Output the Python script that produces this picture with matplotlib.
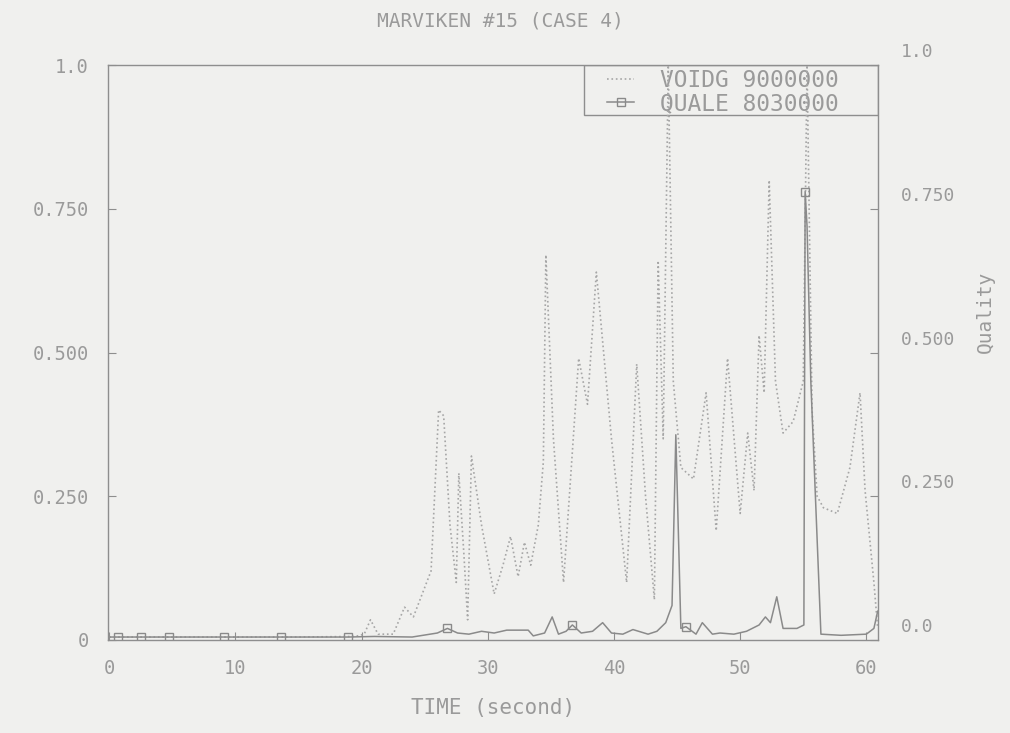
import numpy as np
import matplotlib.pyplot as plt
import matplotlib.transforms as mtransforms
from matplotlib.patches import Rectangle

# VOIDG 9000000 (dotted)
t_void = [0, 5, 10, 15, 19.5, 20.2, 20.7, 21.3, 22.5, 23.4, 24.1, 24.8, 25.5,
          26.1, 26.5, 27.0, 27.5, 27.7, 28.1, 28.4, 28.7, 29.5, 30.5, 31.2,
          31.8, 32.4, 32.9, 33.4, 34.0, 34.4, 34.6, 35.2, 36.0, 37.2, 37.9,
          38.6, 39.8, 41.0, 41.8, 42.5, 43.2, 43.5, 43.9, 44.3, 44.7, 45.3,
          46.3, 47.3, 48.1, 49.0, 50.0, 50.6, 51.1, 51.5, 51.9, 52.3, 52.8,
          53.4, 54.2, 55.0, 55.3, 55.7, 56.1, 56.6, 57.7, 58.7, 59.5, 59.9,
          60.6, 60.9]
voidg = [0.005, 0.005, 0.005, 0.005, 0.006, 0.01, 0.035, 0.01, 0.01, 0.057,
         0.04, 0.08, 0.12, 0.40, 0.39, 0.2, 0.10, 0.29, 0.15, 0.035, 0.32,
         0.2, 0.08, 0.13, 0.18, 0.11, 0.17, 0.13, 0.2, 0.31, 0.67, 0.35,
         0.10, 0.49, 0.41, 0.64, 0.35, 0.10, 0.48, 0.25, 0.07, 0.66, 0.35,
         1.0, 0.45, 0.30, 0.28, 0.43, 0.19, 0.49, 0.22, 0.36, 0.26, 0.53,
         0.43, 0.80, 0.45, 0.36, 0.38, 0.45, 1.0, 0.40, 0.25, 0.23, 0.22,
         0.30, 0.43, 0.26, 0.10, 0.02]

# QUALE 8030000 (solid, square markers)
t_qual = [0, 0.7, 2.5, 4.7, 9.1, 13.6, 18.9, 21.0, 24.0, 26.0, 26.8, 27.6,
          28.5, 29.5, 30.5, 31.5, 33.2, 33.6, 34.5, 35.1, 35.6, 36.2, 36.7,
          37.4, 38.3, 39.1, 39.8, 40.7, 41.5, 42.7, 43.4, 44.1, 44.6, 44.9,
          45.3, 45.7, 46.5, 47.0, 47.8, 48.4, 49.5, 50.5, 51.5, 52.0, 52.4,
          52.9, 53.4, 54.5, 55.05, 55.15, 55.3, 55.6, 56.4, 58.0, 60.0, 60.6,
          60.9]
quale = [0.005, 0.005, 0.005, 0.005, 0.005, 0.005, 0.005, 0.006, 0.005,
         0.012, 0.02, 0.012, 0.01, 0.015, 0.012, 0.017, 0.017, 0.007, 0.012,
         0.04, 0.01, 0.015, 0.026, 0.012, 0.015, 0.03, 0.012, 0.01, 0.018,
         0.01, 0.015, 0.03, 0.06, 0.357, 0.02, 0.023, 0.01, 0.03, 0.01,
         0.012, 0.01, 0.015, 0.026, 0.04, 0.03, 0.075, 0.02, 0.02, 0.026,
         0.78, 0.72, 0.45, 0.01, 0.008, 0.01, 0.02, 0.05]
mark_idx = [1, 2, 3, 4, 5, 6, 10, 22, 35, 49]

x_ticks = [0, 10, 20, 30, 40, 50, 60]
y_ticks = [0, 0.25, 0.5, 0.75, 1.0]
y_left_labels = ['0', '0.250', '0.500', '0.750', '1.0']
y_right_labels = ['0.0', '0.250', '0.500', '0.750', '1.0']

bg = '#f0f0ee'
txt = '#9a9a9a'
edge = '#8e8e8e'
plt.rcParams['font.family'] = 'DejaVu Sans Mono'

fig = plt.figure(figsize=(10.1, 7.33), dpi=100, facecolor=bg)
ax = fig.add_axes([0.107, 0.127, 0.762, 0.784])
ax.set_facecolor(bg)

ax.plot(t_void, voidg, ls=':', lw=1.2, color='#a6a6a6', label='VOIDG 9000000')
ax.plot(t_qual, quale, ls='-', lw=1.1, color='#8a8a8a', marker='s', ms=6,
        mfc='none', mec='#8a8a8a', markevery=mark_idx, label='QUALE 8030000')

ax.set_xlim(-0.1, 60.9)
ax.set_ylim(0, 1.0)
ax.set_xticks(x_ticks)
ax.set_yticks(y_ticks)
ax.set_yticklabels(y_left_labels)
ax.tick_params(direction='in', length=6, colors=edge, labelcolor=txt,
               labelsize=13.5, pad=14)
for s in ax.spines.values():
    s.set_color(edge)
    s.set_linewidth(1.0)

ax2 = ax.twinx()
ax2.set_ylim(0, 1.0)
ax2.set_yticks(y_ticks)
ax2.set_yticklabels(y_right_labels)
ax2.tick_params(direction='in', length=6, colors=edge, labelcolor=txt,
                labelsize=13, pad=17)
for s in ax2.spines.values():
    s.set_visible(False)
off = mtransforms.ScaledTranslation(0, 0.15, fig.dpi_scale_trans)
for lab in ax2.get_yticklabels():
    lab.set_transform(lab.get_transform() + off)
ax2.set_ylabel('Quality', color=txt, fontsize=14)
ax2.yaxis.set_label_coords(1.128, 0.57)

ax.set_xlabel('TIME (second)', color=txt, fontsize=15, labelpad=14)
fig.text(0.495, 0.972, 'MARVIKEN #15 (CASE 4)', ha='center', va='center',
         color=txt, fontsize=14)

# legend box
ax.add_patch(Rectangle((0.619, 0.913), 0.381, 0.087, transform=ax.transAxes,
                       fill=False, edgecolor=edge, lw=1.0, zorder=1))
leg = ax.legend(loc='upper right', bbox_to_anchor=(0.952, 0.997),
                borderaxespad=0, frameon=False, handlelength=1.2,
                handletextpad=1.1, borderpad=0.1, labelspacing=0.0,
                prop={'size': 16.5})
for t in leg.get_texts():
    t.set_color(txt)
leg.set_zorder(1)

fig.savefig('out.png', dpi=100, facecolor=bg)
